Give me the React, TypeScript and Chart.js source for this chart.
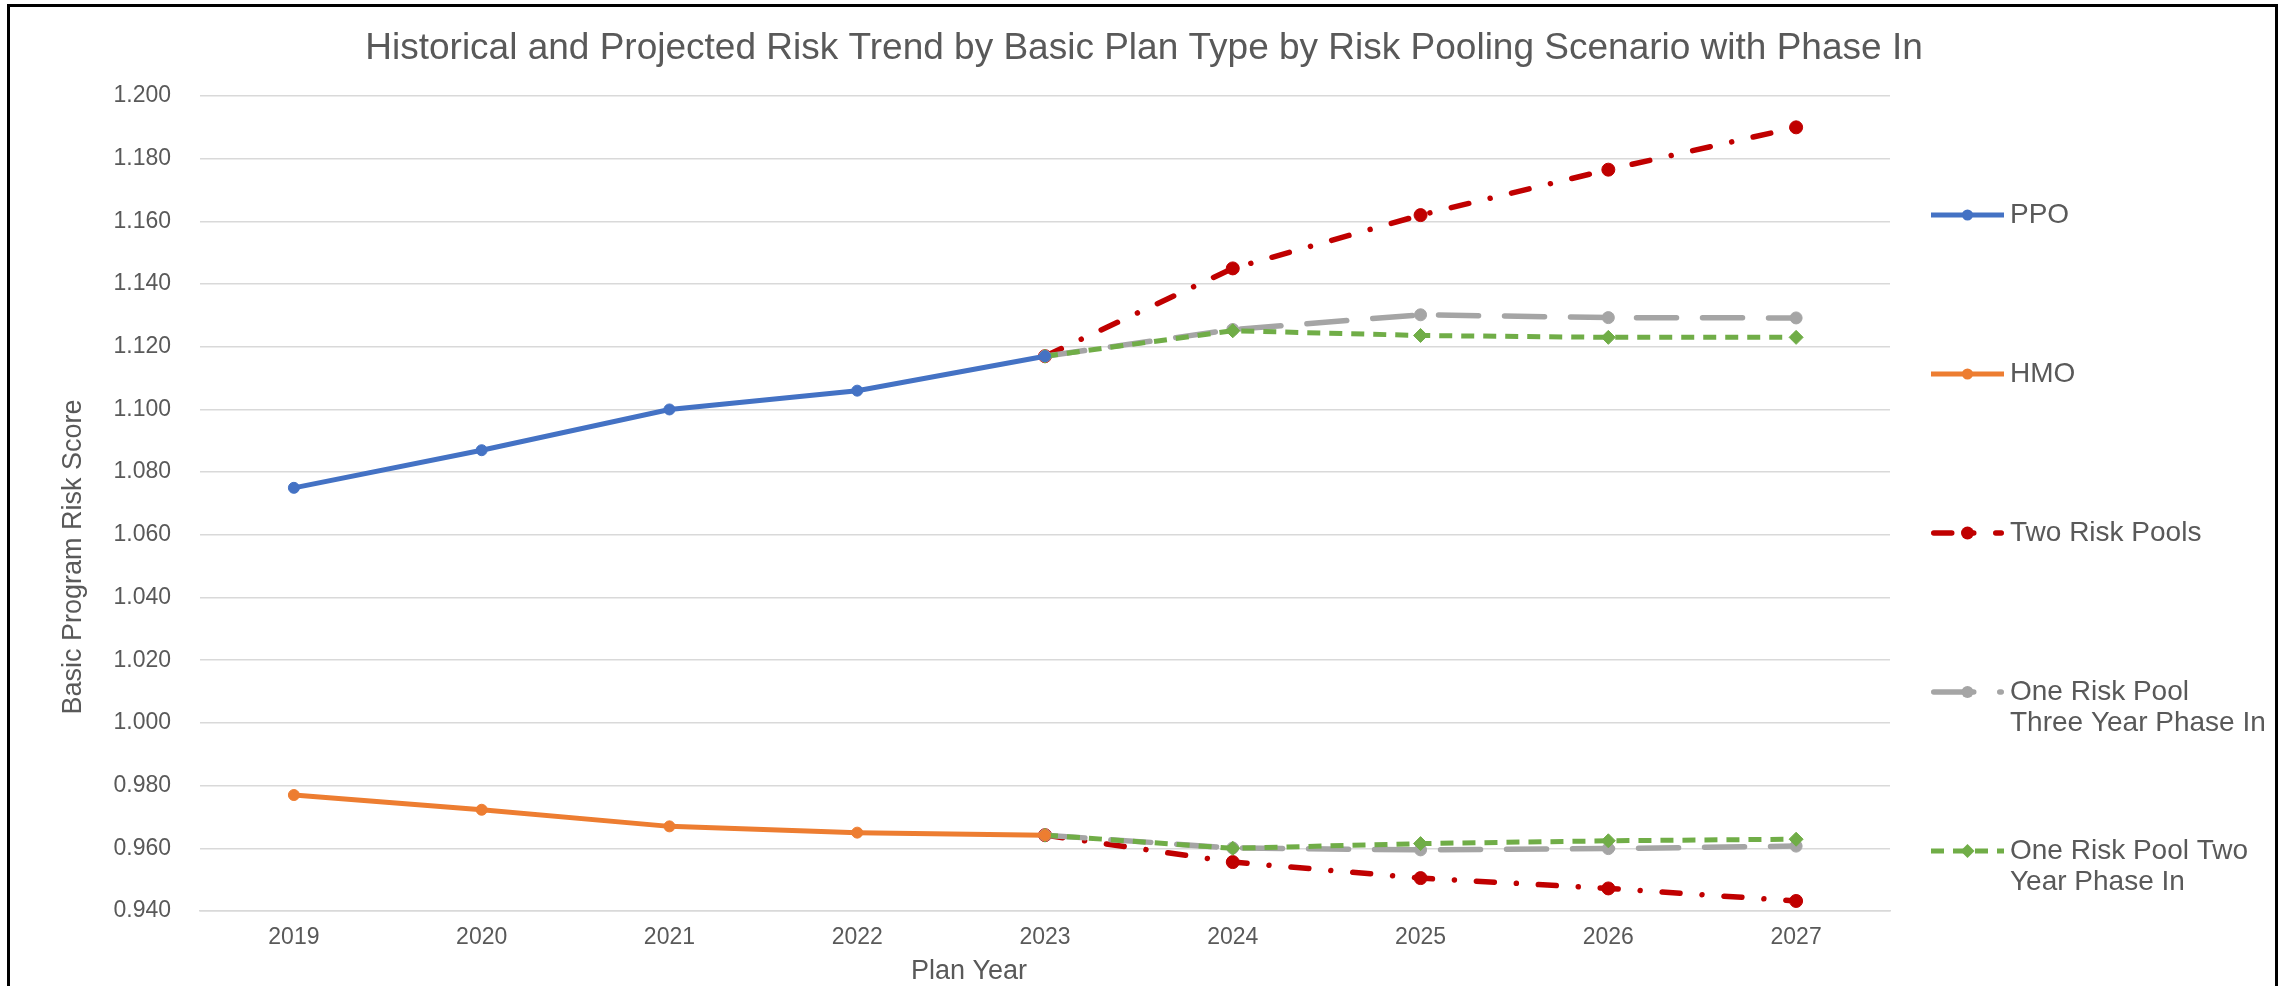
import React, { useEffect, useRef } from 'react';
import { Chart, registerables } from 'chart.js';

Chart.register(...registerables);

const years = ['2019', '2020', '2021', '2022', '2023', '2024', '2025', '2026', '2027'];
const ppo = [1.075, 1.087, 1.100, 1.106, 1.117, null, null, null, null];
const hmo = [0.977, 0.9723, 0.967, 0.965, 0.9642, null, null, null, null];
const twoPoolsPPO = [null, null, null, null, 1.117, 1.145, 1.162, 1.1765, 1.190];
const twoPoolsHMO = [null, null, null, null, 0.9642, 0.9556, 0.9505, 0.9472, 0.9432];
const threeYearPPO = [null, null, null, null, 1.117, 1.1255, 1.1302, 1.1293, 1.1292];
const threeYearHMO = [null, null, null, null, 0.9642, 0.9601, 0.9595, 0.9599, 0.9607];
const twoYearPPO = [null, null, null, null, 1.117, 1.1251, 1.1236, 1.123, 1.123];
const twoYearHMO = [null, null, null, null, 0.9642, 0.96, 0.9615, 0.9624, 0.9629];

const yMin = 0.94;
const yMax = 1.2;
const yStep = 0.02;

const chartTitle = 'Historical and Projected Risk Trend by Basic Plan Type by Risk Pooling Scenario with Phase In';
const xTitle = 'Plan Year';
const yTitle = 'Basic Program Risk Score';
const legendLabels: string[][] = [
  ['PPO'],
  ['HMO'],
  ['Two Risk Pools'],
  ['One Risk Pool', 'Three Year Phase In'],
  ['One Risk Pool Two', 'Year Phase In'],
];

const FONT = '"Liberation Sans", Arial, sans-serif';
const TEXT = '#595959';

const styles = {
  ppo: { color: '#4472C4', width: 5, dash: [] as number[], cap: 'butt', point: 'circle', r: 5.5 },
  hmo: { color: '#ED7D31', width: 5, dash: [] as number[], cap: 'butt', point: 'circle', r: 5.5 },
  two: { color: '#C00000', width: 5.5, dash: [18, 22, 0.01, 22], cap: 'round', point: 'circle', r: 6.5 },
  three: { color: '#A5A5A5', width: 5.5, dash: [40, 26], cap: 'round', point: 'circle', r: 6 },
  twoYr: { color: '#70AD47', width: 5, dash: [13, 9], cap: 'butt', point: 'rectRot', r: 7 },
};

function ds(data: (number | null)[], s: any, order: number) {
  return {
    data,
    borderColor: s.color,
    backgroundColor: s.color,
    borderWidth: s.width,
    borderDash: s.dash,
    borderCapStyle: s.cap,
    pointStyle: s.point,
    pointRadius: s.r,
    pointHoverRadius: s.r,
    pointBackgroundColor: s.color,
    pointBorderColor: s.color,
    pointBorderWidth: 1,
    tension: 0,
    spanGaps: false,
    order,
  };
}

const legendDefs = [
  { s: styles.ppo, labels: legendLabels[0] },
  { s: styles.hmo, labels: legendLabels[1] },
  { s: styles.two, labels: legendLabels[2] },
  { s: styles.three, labels: legendLabels[3] },
  { s: styles.twoYr, labels: legendLabels[4] },
];

const overlayPlugin = {
  id: 'overlay',
  afterDraw(chart: any) {
    const ctx = chart.ctx as CanvasRenderingContext2D;
    ctx.save();
    ctx.fillStyle = TEXT;
    ctx.textAlign = 'center';
    ctx.textBaseline = 'middle';
    ctx.font = `37px ${FONT}`;
    ctx.fillText(chartTitle, 1144, 49);
    ctx.font = `27px ${FONT}`;
    ctx.fillText(xTitle, 969, 972);
    ctx.save();
    ctx.translate(74, 557);
    ctx.rotate(-Math.PI / 2);
    ctx.fillText(yTitle, 0, 0);
    ctx.restore();

    // legend
    const x1 = 1931;
    const x2 = 2004;
    const tx = 2010;
    const startY = 215;
    const gap = 159;
    legendDefs.forEach((d, i) => {
      const y = startY + i * gap;
      const s = d.s;
      ctx.save();
      ctx.strokeStyle = s.color;
      ctx.lineWidth = s.width;
      ctx.setLineDash(s.dash);
      ctx.lineCap = s.cap as CanvasLineCap;
      ctx.beginPath();
      ctx.moveTo(x1 + (s.cap === 'round' ? s.width / 2 : 0), y);
      ctx.lineTo(x2 - (s.cap === 'round' ? s.width / 2 : 0), y);
      ctx.stroke();
      ctx.setLineDash([]);
      ctx.fillStyle = s.color;
      const cx = (x1 + x2) / 2;
      ctx.beginPath();
      if (s.point === 'rectRot') {
        ctx.moveTo(cx - s.r, y);
        ctx.lineTo(cx, y - s.r);
        ctx.lineTo(cx + s.r, y);
        ctx.lineTo(cx, y + s.r);
        ctx.closePath();
      } else {
        ctx.arc(cx, y, s.r, 0, Math.PI * 2);
      }
      ctx.fill();
      ctx.restore();
      ctx.fillStyle = TEXT;
      ctx.font = `28px ${FONT}`;
      ctx.textAlign = 'left';
      ctx.textBaseline = 'middle';
      d.labels.forEach((t, j) => ctx.fillText(t, tx, y + j * 31));
    });
    ctx.restore();
  },
};

export default function App() {
  const canvasRef = useRef<HTMLCanvasElement | null>(null);

  useEffect(() => {
    if (!canvasRef.current) return;
    const chart = new Chart(canvasRef.current, {
      type: 'line',
      data: {
        labels: years,
        datasets: [
          ds(ppo, styles.ppo, 0),
          ds(hmo, styles.hmo, 1),
          ds(twoPoolsPPO, styles.two, 4),
          ds(twoPoolsHMO, styles.two, 4),
          ds(threeYearPPO, styles.three, 3),
          ds(threeYearHMO, styles.three, 3),
          ds(twoYearPPO, styles.twoYr, 2),
          ds(twoYearHMO, styles.twoYr, 2),
        ] as any,
      },
      options: {
        responsive: false,
        animation: false,
        layout: { padding: { left: 0, right: 392, top: 96, bottom: 0 } },
        plugins: {
          legend: { display: false },
          tooltip: { enabled: false },
          title: { display: false },
        },
        scales: {
          x: {
            offset: true,
            grid: { display: false, drawTicks: false },
            border: { display: true, color: '#D9D9D9', width: 1.5 },
            ticks: { color: TEXT, font: { family: FONT, size: 23 }, padding: 13, maxRotation: 0 },
            afterFit: (scale: any) => { scale.height = 75; },
          },
          y: {
            min: yMin,
            max: yMax,
            grid: { color: '#D9D9D9', lineWidth: 1.5, drawTicks: false },
            border: { display: false },
            ticks: {
              stepSize: yStep,
              color: TEXT,
              font: { family: FONT, size: 23 },
              padding: 29,
              callback: (v: any) => Number(v).toFixed(3),
            },
            afterFit: (scale: any) => { scale.width = 200; },
          },
        },
      } as any,
      plugins: [overlayPlugin],
    });
    return () => chart.destroy();
  }, []);

  return (
    <div style={{ position: 'fixed', left: 0, top: 0, width: 2282, height: 986, overflow: 'hidden', background: '#fff' }}>
      <canvas ref={canvasRef} width={2282} height={986} style={{ position: 'absolute', left: 0, top: 0, width: 2282, height: 986 }} />
      <div style={{ position: 'absolute', left: 7, top: 4, width: 2271, height: 1100, boxSizing: 'border-box', border: '3px solid #000', pointerEvents: 'none' }} />
    </div>
  );
}
